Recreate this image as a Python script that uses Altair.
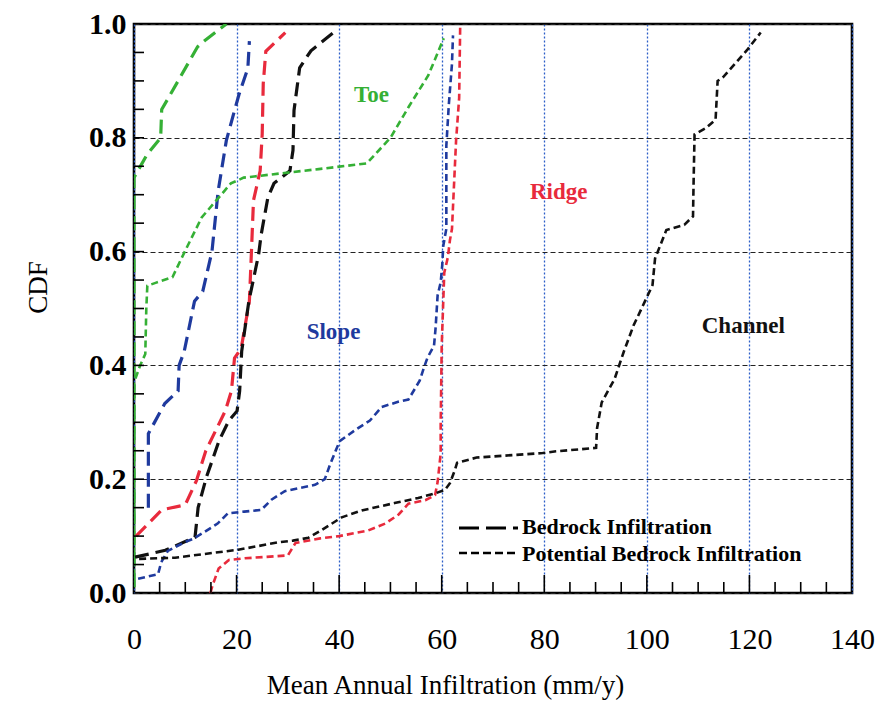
import altair as alt
import pandas as pd

REGIONS = ["Toe", "Slope", "Ridge", "Channel"]
REGION_COLORS = ["#35b035", "#1f3a9e", "#e82a3c", "#111111"]
KINDS = ["Bedrock Infiltration", "Potential Bedrock Infiltration"]

# ---- Bedrock infiltration (long dash) ----
toe_bed_x = [0, 0, 2.5, 5.2, 5.4, 6.7, 12.4, 13.7, 18]
toe_bed_y = [0.01, 0.73, 0.77, 0.80, 0.85, 0.87, 0.96, 0.97, 1.0]

slope_bed_x = [2.8, 2.8, 6.0, 8.6, 8.8, 9.8, 11.8, 13.4, 15.2, 16.4, 18.0, 19.6, 20.5, 22.2, 22.5]
slope_bed_y = [0.15, 0.28, 0.333, 0.355, 0.40, 0.425, 0.513, 0.53, 0.60, 0.706, 0.795, 0.848, 0.877, 0.922, 0.97]

ridge_bed_x = [0.4, 2.8, 5.4, 10.0, 12.2, 14.0, 17.8, 19.0, 19.6, 20.9, 22.5, 22.9, 23.3, 24.6, 25.0, 25.2, 25.7, 29.5]
ridge_bed_y = [0.10, 0.122, 0.146, 0.155, 0.198, 0.25, 0.32, 0.355, 0.413, 0.43, 0.513, 0.60, 0.69, 0.742, 0.807, 0.895, 0.952, 0.985]

channel_bed_x = [0.2, 6.1, 11.9, 12.5, 14.1, 16.6, 18.5, 20.1, 20.6, 21.0, 22.4, 24.3, 24.8, 26.1, 27.3,
                 30.4, 31.0, 31.2, 32.3, 34.5, 39.6]
channel_bed_y = [0.063, 0.075, 0.098, 0.15, 0.203, 0.268, 0.303, 0.32, 0.355, 0.425, 0.513, 0.595, 0.63, 0.695, 0.72,
                 0.742, 0.778, 0.848, 0.923, 0.953, 0.99]

# ---- Potential bedrock infiltration (short dash) ----
toe_pot_x = [0, 0, 1.2, 2.2, 2.4, 2.6, 4.2, 7.5, 9.9, 13.2, 18.9, 21.4, 36.0, 45.4, 50.0, 53.6, 57.4, 60.4]
toe_pot_y = [0.01, 0.37, 0.40, 0.42, 0.50, 0.54, 0.545, 0.555, 0.60, 0.66, 0.72, 0.73, 0.745, 0.755, 0.80, 0.855, 0.91, 0.975]

slope_pot_x = [0.8, 4.7, 5.3, 6.6, 9.8, 11.5, 13.7, 16.3, 18.3, 21.5, 24.8, 26.8, 29.4, 32.0, 35.3, 37.2, 38.2,
               40.1, 43.4, 46.0, 48.3, 51.5, 53.5, 55.7, 56.5, 57.2, 58.5, 58.8, 59.2, 59.8, 60.1, 60.3, 60.9,
               60.9, 61.4, 62.0, 62.2]
slope_pot_y = [0.025, 0.033, 0.054, 0.074, 0.089, 0.095, 0.107, 0.122, 0.14, 0.143, 0.146, 0.164, 0.179, 0.184,
               0.19, 0.20, 0.225, 0.267, 0.288, 0.303, 0.327, 0.336, 0.34, 0.373, 0.395, 0.413, 0.435, 0.465,
               0.523, 0.546, 0.576, 0.61, 0.64, 0.786, 0.86, 0.93, 0.98]

ridge_pot_x = [14.9, 15.3, 16.5, 18.5, 21.6, 30.0, 31.5, 36.3, 40.0, 45.7, 49.0, 51.6, 53.5, 56.8, 58.7, 59.2,
               59.5, 59.8, 59.8, 59.9, 60.0, 60.5, 61.2, 61.6, 62.0, 62.8, 63.4, 63.6]
ridge_pot_y = [0.0, 0.013, 0.043, 0.058, 0.061, 0.066, 0.088, 0.096, 0.10, 0.11, 0.122, 0.138, 0.157, 0.163,
               0.172, 0.195, 0.22, 0.245, 0.296, 0.366, 0.435, 0.563, 0.59, 0.62, 0.64, 0.795, 0.87, 0.995]

channel_pot_x = [1.0, 8.0, 20.3, 28.1, 31.0, 34.0, 36.5, 40.5, 44.4, 50.8, 55.4, 58.7, 60.6, 61.6, 62.6, 63.0,
                 66.8, 79.7, 82.3, 90.1, 90.3, 91.2, 93.7, 95.5, 97.4, 99.8, 101.1, 101.6, 103.8, 107.3, 109.0,
                 109.1, 109.3, 111.5, 113.4, 113.8, 114.8, 119.6, 122.2]
channel_pot_y = [0.06, 0.062, 0.076, 0.089, 0.092, 0.097, 0.11, 0.133, 0.145, 0.158, 0.167, 0.175, 0.181, 0.193,
                 0.217, 0.229, 0.238, 0.246, 0.249, 0.255, 0.29, 0.335, 0.376, 0.424, 0.47, 0.516, 0.541, 0.588,
                 0.638, 0.647, 0.662, 0.716, 0.806, 0.817, 0.832, 0.90, 0.906, 0.955, 0.985]

# region annotations (data coordinates)
label_names = ["Toe", "Slope", "Ridge", "Channel"]
label_x = [46.3, 38.9, 82.8, 118.8]
label_y = [0.876, 0.458, 0.705, 0.47]

x_grid_values = [0, 20, 40, 60, 80, 100, 120, 140]
y_grid_values = [0.0, 0.2, 0.4, 0.6, 0.8, 1.0]
x_minor_ticks = [v for v in range(5, 140, 5) if v % 20 != 0]
x_major_ticks = [20, 40, 60, 80, 100, 120]
y_ticks = [round(0.05 * i, 2) for i in range(1, 20)]

series = [
    ("Toe", KINDS[0], toe_bed_x, toe_bed_y),
    ("Slope", KINDS[0], slope_bed_x, slope_bed_y),
    ("Ridge", KINDS[0], ridge_bed_x, ridge_bed_y),
    ("Channel", KINDS[0], channel_bed_x, channel_bed_y),
    ("Toe", KINDS[1], toe_pot_x, toe_pot_y),
    ("Slope", KINDS[1], slope_pot_x, slope_pot_y),
    ("Ridge", KINDS[1], ridge_pot_x, ridge_pot_y),
    ("Channel", KINDS[1], channel_pot_x, channel_pot_y),
]

rows = []
for region, kind, xs, ys in series:
    for i, (xv, yv) in enumerate(zip(xs, ys)):
        rows.append({"region": region, "kind": kind, "series": region + " | " + kind,
                     "order": i, "x": xv, "y": yv})
df = pd.DataFrame(rows)

SERIF = "Liberation Serif"
W, H = 718, 569

xscale = alt.Scale(domain=[0, 140], nice=False, zero=False)
yscale = alt.Scale(domain=[0, 1], nice=False, zero=False)
color_scale = alt.Scale(domain=REGIONS, range=REGION_COLORS)

x_axis = alt.Axis(
    values=x_grid_values, format="d", labelFont=SERIF, labelFontSize=30, labelColor="black",
    labelPadding=31, labelFlush=False, labelOverlap=False, ticks=False, tickSize=0, domain=False,
    grid=True, gridColor="#2d5fc8", gridDash=[2, 2], gridWidth=1.3, gridOpacity=1,
    title="Mean Annual Infiltration (mm/y)", titleFont=SERIF, titleFontSize=27,
    titleFontWeight="normal", titleColor="black", titleX=311, titleY=92,
    titleBaseline="middle", titleAlign="center",
)
y_axis = alt.Axis(
    values=y_grid_values, format=".1f", labelFont=SERIF, labelFontSize=30, labelFontWeight="bold",
    labelColor="black", labelPadding=8, labelFlush=False, labelOverlap=False, ticks=False, tickSize=0,
    domain=False, grid=True, gridColor="#222222", gridDash=[5, 3], gridWidth=1.1, gridOpacity=1,
    title="CDF", titleFont=SERIF, titleFontSize=27, titleFontWeight="normal", titleColor="black",
    titleX=-96, titleY=263, titleBaseline="middle", titleAlign="center", titleAngle=-90,
)


def X(field):
    return alt.X(field, scale=xscale, axis=x_axis)


def Y(field):
    return alt.Y(field, scale=yscale, axis=y_axis)


lines_long = alt.Chart(df[df["kind"] == KINDS[0]]).mark_line(strokeWidth=3.2, strokeDash=[14, 7], clip=True).encode(
    x=X("x:Q"), y=Y("y:Q"),
    color=alt.Color("region:N", scale=color_scale, legend=None),
    detail="series:N",
    order="order:Q",
)
lines_short = alt.Chart(df[df["kind"] == KINDS[1]]).mark_line(strokeWidth=2.6, strokeDash=[7, 4], clip=True).encode(
    x=X("x:Q"), y=Y("y:Q"),
    color=alt.Color("region:N", scale=color_scale, legend=None),
    detail="series:N",
    order="order:Q",
)

# inward ticks
xminor_df = pd.DataFrame({"x": x_minor_ticks})
xmajor_df = pd.DataFrame({"x": x_major_ticks})
ytick_df = pd.DataFrame({"y": y_ticks})
xminor = alt.Chart(xminor_df).mark_rule(color="black", strokeWidth=1.6).encode(
    x=X("x:Q"), y=alt.value(H), y2=alt.value(H - 11))
xmajor = alt.Chart(xmajor_df).mark_rule(color="black", strokeWidth=1.6).encode(
    x=X("x:Q"), y=alt.value(H), y2=alt.value(H - 18))
yticks = alt.Chart(ytick_df).mark_rule(color="black", strokeWidth=1.6).encode(
    y=Y("y:Q"), x=alt.value(0), x2=alt.value(10))

# region labels
lab_df = pd.DataFrame({"region": label_names, "x": label_x, "y": label_y})
labels = alt.Chart(lab_df).mark_text(font=SERIF, fontWeight="bold", fontSize=23).encode(
    x=X("x:Q"), y=Y("y:Q"),
    text="region:N",
    color=alt.Color("region:N", scale=color_scale, legend=None),
)

# legend (drawn inside the plot)
leg1 = pd.DataFrame({"label": [KINDS[0]]})
leg2 = pd.DataFrame({"label": [KINDS[1]]})
leg_line1 = alt.Chart(leg1).mark_rule(color="black", strokeWidth=3.2, strokeDash=[20, 7]).encode(
    x=alt.value(325), x2=alt.value(384), y=alt.value(504))
leg_line2 = alt.Chart(leg2).mark_rule(color="black", strokeWidth=2.6, strokeDash=[8, 4]).encode(
    x=alt.value(325), x2=alt.value(384), y=alt.value(529))
leg_text1 = alt.Chart(leg1).mark_text(font=SERIF, fontWeight="bold", fontSize=22, align="left",
                                      baseline="middle", color="black").encode(
    x=alt.value(388), y=alt.value(503), text="label:N")
leg_text2 = alt.Chart(leg2).mark_text(font=SERIF, fontWeight="bold", fontSize=22, align="left",
                                      baseline="middle", color="black").encode(
    x=alt.value(388), y=alt.value(530), text="label:N")

chart = alt.layer(
    lines_long, lines_short, xminor, xmajor, yticks, labels,
    leg_line1, leg_line2, leg_text1, leg_text2,
).properties(
    width=W, height=H,
    autosize=alt.AutoSizeParams(type="none"),
    padding={"left": 126, "top": 16, "right": 25, "bottom": 112},
    background="white",
).configure_view(stroke="black", strokeWidth=2.6)

chart.save("out.html", embed_options={"renderer": "svg", "actions": False})
